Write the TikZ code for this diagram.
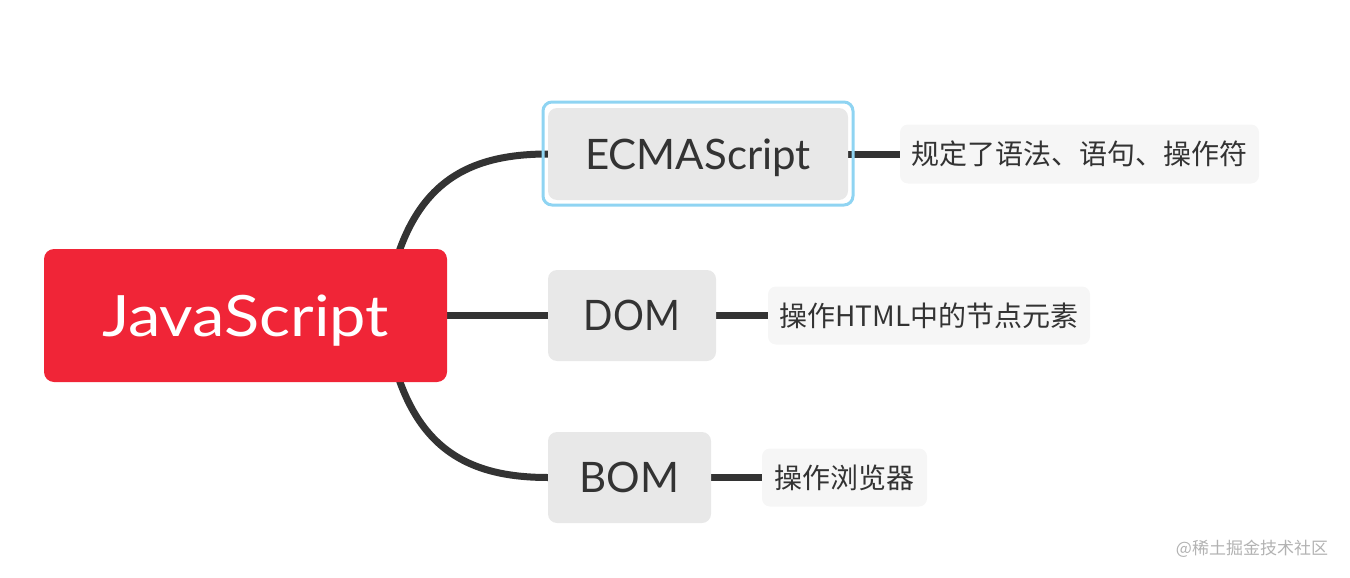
\documentclass[tikz,border=0pt]{standalone}
\usepackage{fontspec}
\usepackage{graphicx}
\setmainfont{Lato}
\newfontfamily\cjk{Noto Sans CJK SC}
\usetikzlibrary{backgrounds}
\definecolor{rootred}{RGB}{240,37,55}
\definecolor{boxgray}{RGB}{232,232,232}
\definecolor{labgray}{RGB}{246,246,246}
\definecolor{linec}{RGB}{51,51,51}
\definecolor{selblue}{RGB}{143,212,242}
\begin{document}
\begin{tikzpicture}[x=1pt,y=-1pt,
  rootbox/.style={fill=rootred, rounded corners=10pt, text=white, font=\fontsize{57}{60}\selectfont, inner sep=0pt, text depth=0pt},
  topicbox/.style={fill=boxgray, rounded corners=9pt, text=linec, font=\fontsize{42}{46}\selectfont, inner sep=0pt, text depth=0pt},
  labelbox/.style={fill=labgray, rounded corners=8pt, text=linec, font=\cjk\fontsize{28}{32}\selectfont, inner sep=0pt},
  conn/.style={draw=linec, line width=7pt},
  selbox/.style={draw=selblue, line width=3pt, rounded corners=9pt, inner sep=0pt}
]
\useasboundingbox (0,0) rectangle (1350,578);
% selection frame
\node[selbox, minimum width=310pt, minimum height=103pt] (sel) at (698,153.5) {};
% nodes
\node[rootbox, minimum width=403pt, minimum height=133pt] (root) at (245.5,315.5) {\scalebox{1.14}[1]{JavaScript}};
\node[topicbox, minimum width=300pt, minimum height=92pt] (ecma) at (698,154) {ECMAScript};
\node[topicbox, minimum width=168pt, minimum height=91pt] (dom) at (632,315.5) {\scalebox{0.92}[1]{DOM}};
\node[topicbox, minimum width=163pt, minimum height=91pt] (bom) at (629.5,477.5) {BOM};
\node[labelbox, minimum width=359pt, minimum height=59pt] (lab1) at (1079.5,154) {规定了语法、语句、操作符};
\node[labelbox, minimum width=322pt, minimum height=58pt] (lab2) at (929,315.5) {操作HTML中的节点元素};
\node[labelbox, minimum width=165pt, minimum height=58pt] (lab3) at (844.5,477.5) {操作浏览器};
\node[text=black!30, font=\cjk\fontsize{17}{20}\selectfont, inner sep=0pt] (wm) at (1252,549) {@稀土掘金技术社区};
% connectors
\coordinate (r1) at (392,275);
\coordinate (r3) at (392,356);
\begin{scope}[on background layer]
\draw[conn] (r1) .. controls (415,185) and (465,154) .. (ecma.west);
\draw[conn] (root.east) -- (dom.west);
\draw[conn] (r3) .. controls (415,446) and (465,477.5) .. (bom.west);
\draw[conn] (ecma.east) -- (lab1.west);
\draw[conn] (dom.east) -- (lab2.west);
\draw[conn] (bom.east) -- (lab3.west);
\end{scope}
\end{tikzpicture}
\end{document}
